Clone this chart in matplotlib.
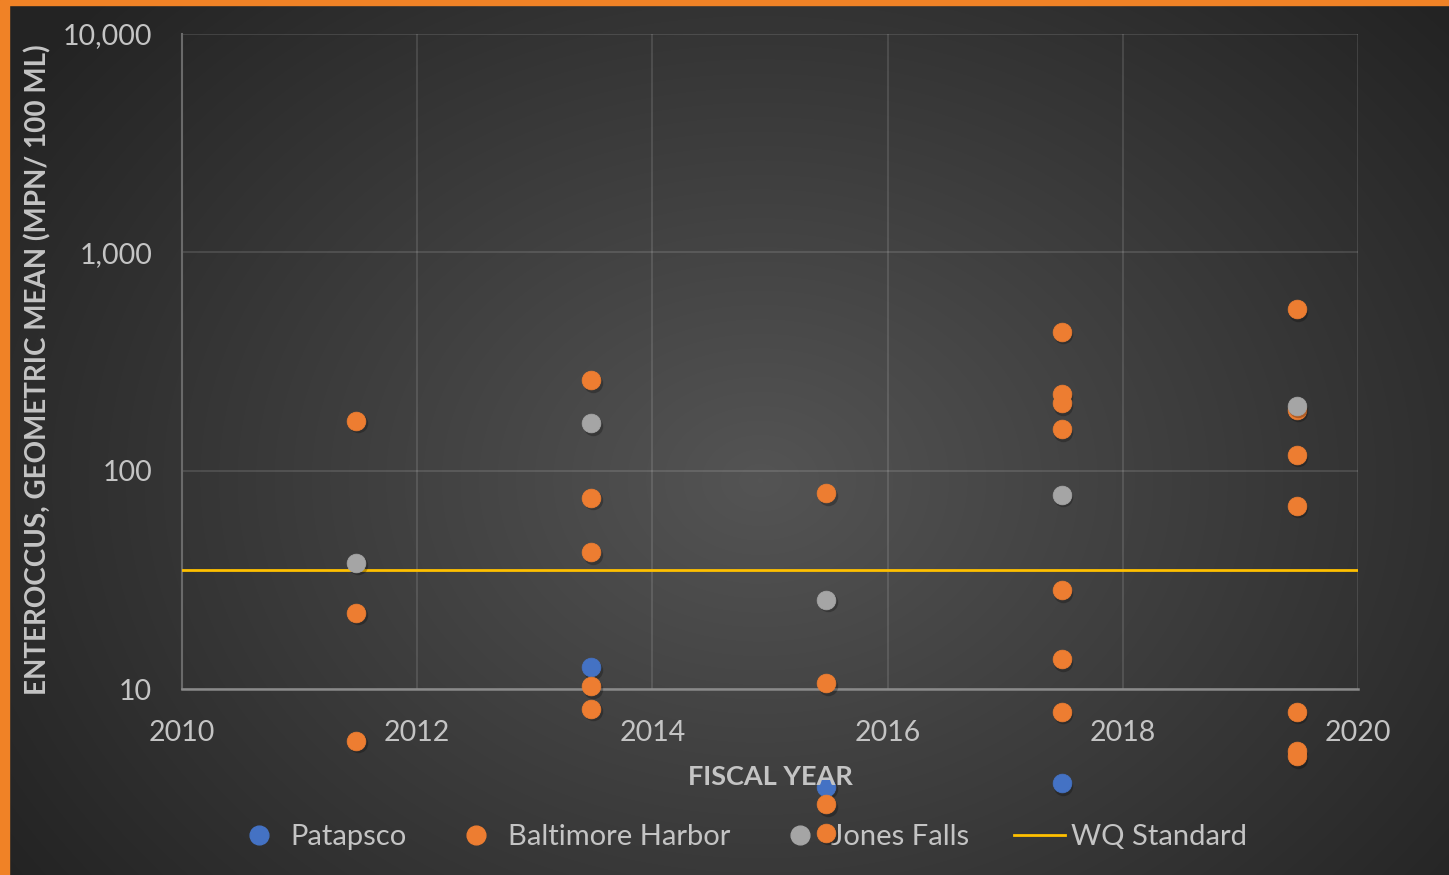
import numpy as np
import matplotlib
matplotlib.use("Agg")
import matplotlib.pyplot as plt
import matplotlib.transforms as mtransforms
from matplotlib.lines import Line2D
from matplotlib.patches import Rectangle
from matplotlib.ticker import FuncFormatter, FixedLocator

plt.rcParams['font.family'] = ['Lato', 'DejaVu Sans']

# data (fiscal year position, geometric mean)
patapsco_x = [2013.48, 2015.48, 2017.48]
patapsco_y = [12.6, 3.56, 3.7]

harbor_x = [2011.48, 2011.48, 2011.48,
            2013.48, 2013.48, 2013.48, 2013.48, 2013.48,
            2015.48, 2015.48, 2015.48, 2015.48,
            2017.48, 2017.48, 2017.48, 2017.48, 2017.48, 2017.48, 2017.48,
            2019.48, 2019.48, 2019.48, 2019.48, 2019.48, 2019.48, 2019.48]
harbor_y = [169, 22.3, 5.8,
            260, 75, 42.4, 10.3, 8.1,
            79, 10.6, 2.97, 2.2,
            432, 224, 204, 155, 28.4, 13.7, 7.85,
            550, 190, 118, 69, 7.85, 5.2, 4.93]

jones_x = [2011.48, 2013.48, 2015.48, 2017.48, 2019.48]
jones_y = [37.8, 165, 25.6, 77.4, 198]

wq_x = [2010, 2020]
wq_y = [35, 35]

x_ticks = [2010, 2012, 2014, 2016, 2018, 2020]
y_ticks = [10, 100, 1000, 10000]

colors = {"Patapsco": "#4472C4", "Baltimore Harbor": "#ED7D31",
          "Jones Falls": "#A5A5A5", "WQ Standard": "#FFC000"}
text_col = "#C4C4C4"

W, H = 1449, 875
fig = plt.figure(figsize=(W / 100, H / 100), dpi=100)

# background: dark radial gradient with orange frame at top/left
bg = fig.add_axes([0, 0, 1, 1], zorder=-10)
yy, xx = np.mgrid[0:H, 0:W]
r = np.sqrt(((xx - 760) / 900.0) ** 2 + ((yy - 480) / 700.0) ** 2)
shade = np.clip(0.33 - 0.19 * r, 0.14, 0.34)
bg.imshow(np.dstack([shade] * 3), extent=[0, W, H, 0], aspect='auto')
bg.add_patch(Rectangle((0, 0), W, 5, color="#F08226"))
bg.add_patch(Rectangle((0, 0), 9, H, color="#F08226"))
bg.set_xlim(0, W)
bg.set_ylim(H, 0)
bg.axis('off')

ax = fig.add_axes([182 / W, 1 - 689 / H, 1176 / W, 655 / H])
ax.set_facecolor('none')
ax.set_yscale('log')
ax.set_xlim(2010, 2020)
ax.set_ylim(10, 10000)

shadow = mtransforms.offset_copy(ax.transData, fig=fig, x=1.5, y=-2.5, units='dots')
series = [("Patapsco", patapsco_x, patapsco_y),
          ("Baltimore Harbor", harbor_x, harbor_y),
          ("Jones Falls", jones_x, jones_y)]
for name, xs, ys in series:
    ax.plot(xs, ys, 'o', ms=14, color='black', alpha=0.25, mec='none',
            transform=shadow, clip_on=False, zorder=6)
    ax.plot(xs, ys, 'o', ms=13.5, color=colors[name], mec=colors[name], mew=0.5,
            clip_on=False, zorder=6)
ax.plot(wq_x, wq_y, color=colors["WQ Standard"], lw=2, zorder=5)

ax.xaxis.set_major_locator(FixedLocator(x_ticks))
ax.yaxis.set_major_locator(FixedLocator(y_ticks))
ax.yaxis.set_minor_locator(FixedLocator([]))
ax.yaxis.set_major_formatter(FuncFormatter(lambda v, p: f"{int(v):,}"))
ax.grid(True, which='major', color='white', alpha=0.13, lw=1.3)
ax.tick_params(length=0, labelsize=20.5, colors=text_col)
ax.tick_params(axis='y', pad=21.5)
ax.tick_params(axis='x', pad=22)
for s in ['top', 'right']:
    ax.spines[s].set_visible(False)
ax.spines['left'].set_color('#6a6a6a')
ax.spines['bottom'].set_color('#8a8a8a')
ax.spines['left'].set_linewidth(1.5)
ax.spines['bottom'].set_linewidth(1.8)

fig.text(38 / W, 1 - 370 / H, "ENTEROCCUS, GEOMETRIC MEAN (MPN/ 100 ML)", rotation=90,
         ha='center', va='center', fontsize=20, fontweight='bold', color=text_col)
fig.text(770 / W, 1 - 777 / H, "FISCAL YEAR", ha='center', va='center',
         fontsize=19.5, fontweight='bold', color=text_col, zorder=10)

handles = [Line2D([], [], ls='none', marker='o', ms=13.5, color=colors[n], label=n)
           for n in ["Patapsco", "Baltimore Harbor", "Jones Falls"]]
handles.append(Line2D([], [], color=colors["WQ Standard"], lw=2, label="WQ Standard"))
leg = ax.legend(handles=handles, loc='center', bbox_to_anchor=(740 / W, 1 - 837 / H),
                bbox_transform=fig.transFigure, ncol=4, frameon=False, fontsize=21,
                handlelength=1.75, handletextpad=0.2, columnspacing=1.52,
                labelcolor=text_col)
leg.set_zorder(4)

fig.savefig("out.png", dpi=100)
